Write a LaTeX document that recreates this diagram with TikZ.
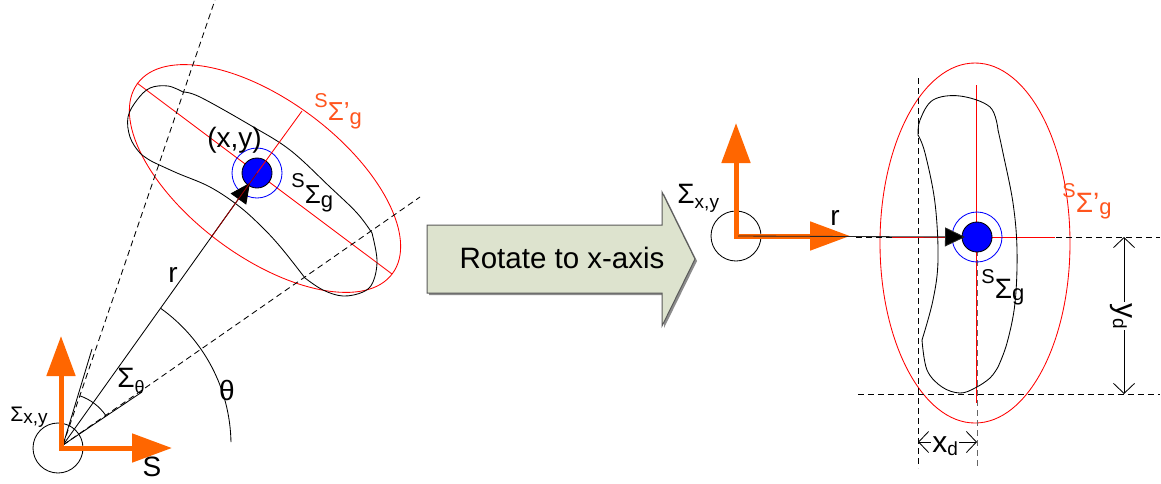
\documentclass[tikz,border=0pt]{standalone}
\usepackage{fontspec}
\setmainfont{Liberation Sans}
\usetikzlibrary{arrows.meta}
\newcommand\fsz[1]{\fontsize{#1pt}{#1pt}\selectfont}
\definecolor{axor}{RGB}{255,102,0}
\definecolor{lblor}{RGB}{255,85,30}
\definecolor{arrfill}{RGB}{221,227,206}
\definecolor{dkred}{RGB}{150,0,0}
\begin{document}
\begin{tikzpicture}[x=1pt,y=-1pt,line width=0.85pt,
  dline/.style={dash pattern=on 6pt off 4pt},
  redl/.style={draw=red},
  axis/.style={draw=axor, line width=5pt, line join=miter,
    arrows={Triangle[length=40pt,width=28pt]-Triangle[length=40pt,width=28pt]}},
  lbl/.style={inner sep=0pt, font=\fsz{28}},
  dimarr/.style={arrows={Straight Barb[length=10pt,width=21pt]-Straight Barb[length=10pt,width=21pt]}},
  ptr/.style={arrows={-Triangle[length=20pt,width=19pt,fill=black]}},
  bean/.style={draw=black, smooth, tension=0.6},
  dotc/.style={circle, draw=black, fill=blue, minimum size=30pt, inner sep=0pt},
  ringc/.style={circle, draw=blue, minimum size=50pt, inner sep=0pt},
  ]
\fill[white] (0,0) rectangle (1161,483);
\useasboundingbox (0,0) rectangle (1161,483);

% ================= LEFT FIGURE =================
\coordinate (O1) at (63,445);
\coordinate (P1) at (257,173);
% red ellipse and axes
\draw[redl, rotate around={-36.8:(265,178.5)}] (265,178.5) ellipse[x radius=159, y radius=78];
\coordinate (MA1) at (137,83);
\coordinate (MA2) at (392,274);
\draw[redl] (MA1) -- (MA2);
% bean
\draw[bean] plot coordinates {(183,92) (168,86) (150,88) (137,100) (128,117) (130,137) (140,153) (153,162)};
\draw[bean] plot coordinates {(153,162) (177,173) (210,187) (240,207) (265,230) (283,250) (305,278)};
\draw[bean] plot coordinates {(305,278) (323,290) (343,296) (363,292) (373,282) (377,260) (372,233)};
\draw[bean] plot coordinates {(372,233) (357,213) (330,187) (290,150) (250,125) (200,97) (183,92)};
% dashed rays
\coordinate (DU) at (215,0);
\coordinate (DL) at (420,197);
\draw[dline] (O1) -- (DU);
\draw[dline] (O1) -- (DL);
% solid short rays of Sigma_theta
\coordinate (SU) at (92,349);
\coordinate (SL) at (142,392);
\draw (O1) -- (SU);
\draw (O1) -- (SL);
\draw ([shift={(-35:52)}]O1) arc[start angle=-35, end angle=-71, radius=52];
% theta arc
\draw ([shift={(-1:168)}]O1) arc[start angle=-1, end angle=-54.4, radius=168];
% ring and dot
\node[ringc] (R1) at (P1) {};
\node[dotc] (D1) at (P1) {};
% r line with pointer
\coordinate (T1) at (250,182.8);
\draw[ptr, draw=black] (O1) -- (T1);
% red minor axis along r
\coordinate (MN1) at (302,111);
\coordinate (MN2) at (212,236);
\draw[redl] (MN1) -- (P1);
\draw[draw=dkred] (P1) -- (MN2);
% labels
\node[lbl, anchor=base] (xy) at (234.5,147) {(x,y)};
\node[lbl, anchor=base] (r1) at (173,282) {r};
\node[lbl] (th) at (227,390) {θ};
\node[inner sep=0pt, anchor=base west] (sth) at (117,387) {\fsz{28}Σ\raisebox{-6pt}{\fsz{18}θ}};
\node[inner sep=0pt, anchor=base west] (sxy1) at (10,421) {\fsz{21}Σ\raisebox{-2pt}{\fsz{19}x,y}};
\node[inner sep=0pt, anchor=base west, text=lblor] (sgp1) at (314,120) {\raisebox{13pt}{\fsz{20}S}\fsz{26}Σ'\raisebox{-4pt}{\fsz{22}g}};
\node[inner sep=0pt, anchor=base west] (sg1) at (291,203) {\raisebox{16pt}{\fsz{20}S}\fsz{26}Σ\raisebox{-4pt}{\fsz{22}g}};
% origin circle and axes
\node[circle, draw, minimum size=50pt, inner sep=0pt] (C1) at (58,448) {};
\coordinate (AX1) at (61,448);
\coordinate (AY1) at (61,336);
\coordinate (AS1) at (172,448);
\draw[axis] (AY1) -- (AX1) -- (AS1);
\node[lbl] (S1) at (152,467) {S};

% ================= MIDDLE ARROW =================
\fill[black!45] (429,227) -- (664,227) -- (664,194) -- (697,261) -- (664,328) -- (664,295) -- (429,295) -- cycle;
\draw[draw=black!65, fill=arrfill, line width=1pt] (427,225) -- (662,225) -- (662,192) -- (695,259) -- (662,326) -- (662,293) -- (427,293) -- cycle;
\node[inner sep=0pt, font=\fsz{29.5}, anchor=base] (rot) at (562,268) {Rotate to x-axis};

% ================= RIGHT FIGURE =================
\coordinate (O2) at (736,236);
\coordinate (P2) at (977,237);
\draw[redl] (975,243) ellipse[x radius=95, y radius=180];
% dashed guides
\draw[dline] (856,237) -- (1160,237);
\draw[dline] (858,394) -- (1160,394);
\draw[dline] (918,78) -- (918,468);
\draw[dline, draw=black!60] (977,250) -- (977,468);
% red axes
\draw[redl] (892,237) -- (1055,237);
\draw[redl] (976,85) -- (976,403);
% bean
\draw[bean] plot coordinates {(918,135) (925,153) (935,203) (938,260) (933,300) (922,340)};
\draw[bean] plot coordinates {(922,340) (927,370) (942,387) (960,393) (975,388) (990,378) (998,367)};
\draw[bean] plot coordinates {(998,367) (1007,343) (1015,303) (1017,250) (1013,203) (1003,153) (998,130)};
\draw[bean] plot coordinates {(998,130) (990,107) (960,96) (933,100) (920,120) (918,135)};
% ring and dot
\node[ringc] (R2) at (P2) {};
\node[dotc] (D2) at (P2) {};
% origin circle and axes
\node[circle, draw, minimum size=50pt, inner sep=0pt] (C2) at (736,236) {};
\coordinate (AY2) at (736,123);
\coordinate (AS2) at (850,236);
\draw[axis] (AY2) -- (O2) -- (AS2);
% r line with pointer
\coordinate (T2) at (965,237);
\draw[ptr, draw=black!85] (738,236) -- (T2);
% dimensions
\coordinate (YD1) at (1124,237);
\coordinate (YD2) at (1124,394);
\draw[dimarr] (YD1) -- (YD2);
\node[rotate=-90, anchor=base west, fill=white, inner sep=1pt] (yd) at (1116,302) {\fsz{30}y\raisebox{-3pt}{\fsz{19}d}};
\coordinate (XD1) at (918,442);
\coordinate (XD2) at (977,442);
\draw[dimarr] (XD1) -- (XD2);
\node[anchor=base west, fill=white, inner sep=1pt] (xd) at (931,452) {\fsz{30}x\raisebox{-3pt}{\fsz{19}d}};
% labels
\node[lbl, anchor=base] (r2) at (835,225) {r};
\node[inner sep=0pt, anchor=base west] (sxy2) at (677,203) {\fsz{28}Σ\raisebox{-5pt}{\fsz{19}x,y}};
\node[inner sep=0pt, anchor=base west, text=lblor] (sgp2) at (1062,212) {\raisebox{15pt}{\fsz{20}S}\fsz{28}Σ'\raisebox{-2pt}{\fsz{22}g}};
\node[inner sep=0pt, anchor=base west] (sg2) at (981,298) {\raisebox{15pt}{\fsz{20}S}\fsz{28}Σ\raisebox{-2pt}{\fsz{22}g}};
\end{tikzpicture}
\end{document}
